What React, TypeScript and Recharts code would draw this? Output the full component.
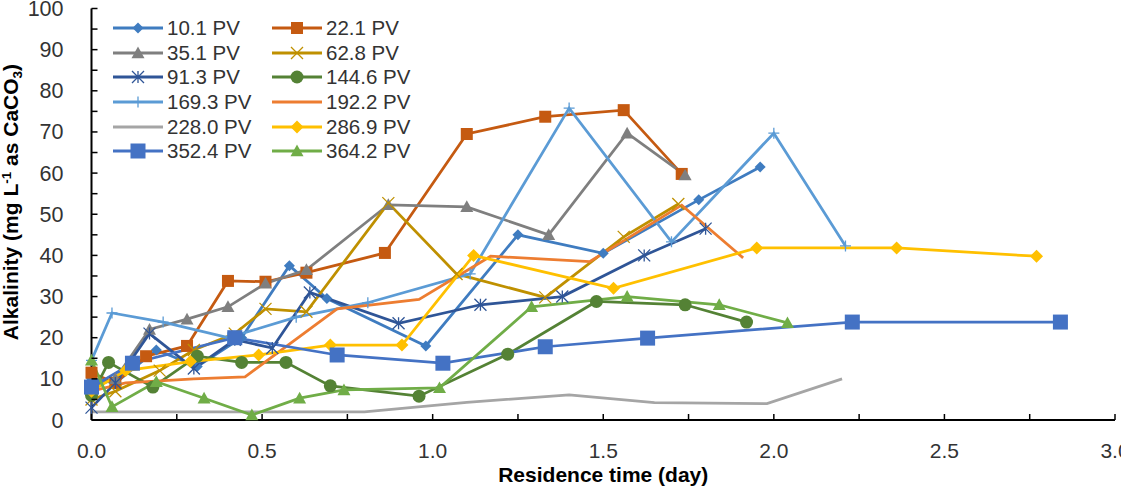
import { Legend, Line, LineChart, XAxis, YAxis } from 'recharts';

// residence time (day) and alkalinity (mg/L as CaCO3) per pore-volume run
const pv10_1Time = [0, 0.07, 0.19, 0.31, 0.44, 0.58, 0.69, 0.98, 1.25, 1.5, 1.78, 1.96];
const pv10_1Alk = [10, 9, 17, 13, 20, 37.5, 29.5, 18, 45, 40.5, 53.5, 61.5];

const pv22_1Time = [0, 0.07, 0.16, 0.28, 0.4, 0.51, 0.63, 0.86, 1.1, 1.33, 1.56, 1.73];
const pv22_1Alk = [11.5, 9, 15.5, 18, 33.8, 33.6, 35.8, 40.6, 69.5, 73.7, 75.3, 59.8];

const pv35_1Time = [0, 0.07, 0.17, 0.28, 0.4, 0.51, 0.63, 0.87, 1.1, 1.34, 1.57, 1.74];
const pv35_1Alk = [8, 10, 22, 24.5, 27.5, 33.2, 36.5, 52.3, 51.8, 45, 69.7, 59.5];

const pv62_8Time = [0, 0.07, 0.2, 0.3, 0.42, 0.51, 0.63, 0.87, 1.07, 1.33, 1.56, 1.72];
const pv62_8Alk = [5, 7, 12, 17, 21, 27, 26.3, 52.7, 35.5, 29.8, 44.5, 52.5];

const pv91_3Time = [0, 0.07, 0.17, 0.3, 0.42, 0.53, 0.64, 0.9, 1.14, 1.38, 1.62, 1.8];
const pv91_3Alk = [3, 9, 21, 12.5, 19.5, 17.5, 31, 23.5, 28, 30, 40, 46.5];

const pv144_6Time = [0, 0.05, 0.18, 0.31, 0.44, 0.57, 0.7, 0.96, 1.22, 1.48, 1.74, 1.92];
const pv144_6Alk = [6, 14, 8, 15.5, 14, 14, 8.3, 5.8, 16, 28.8, 28, 23.8];

const pv169_3Time = [0, 0.06, 0.21, 0.4, 0.6, 0.81, 1.11, 1.4, 1.7, 2.0, 2.21];
const pv169_3Alk = [14.5, 26, 23.8, 20, 25, 28.5, 35.5, 75.8, 43.3, 69.7, 42.3];

const pv192_2Time = [0, 0.1, 0.3, 0.45, 0.72, 0.96, 1.17, 1.46, 1.73, 1.91];
const pv192_2Alk = [7, 9, 10, 10.5, 27, 29.3, 39.8, 38.5, 52.2, 39.4];

const pv228_0Time = [0, 0.2, 0.5, 0.8, 1.1, 1.4, 1.65, 1.98, 2.2];
const pv228_0Alk = [2, 2, 2, 2, 4.3, 6.1, 4.2, 4, 10];

const pv286_9Time = [0, 0.1, 0.29, 0.49, 0.7, 0.91, 1.12, 1.53, 1.95, 2.36, 2.77];
const pv286_9Alk = [7, 12, 14.2, 15.8, 18.2, 18.2, 40, 32, 41.8, 41.8, 39.8];

const pv352_4Time = [0, 0.12, 0.42, 0.72, 1.03, 1.33, 1.63, 2.23, 2.84];
const pv352_4Alk = [8, 13.8, 20, 15.8, 13.8, 17.8, 19.9, 23.8, 23.8];

const pv364_2Time = [0, 0.06, 0.19, 0.33, 0.47, 0.61, 0.74, 1.02, 1.29, 1.57, 1.84, 2.04];
const pv364_2Alk = [14.5, 3.2, 9.3, 5.3, 1.2, 5.3, 7.3, 7.8, 27.5, 30, 28, 23.6];

const xTicks = [0, 0.25, 0.5, 0.75, 1, 1.25, 1.5, 1.75, 2, 2.25, 2.5, 2.75, 3];
const yTicks = [0, 5, 10, 15, 20, 25, 30, 35, 40, 45, 50, 55, 60, 65, 70, 75, 80, 85, 90, 95, 100];

const FONT = '"Liberation Sans", Arial, sans-serif';
const TICK_COLOR = '#333';

type Shape = 'diamond' | 'square' | 'triangle' | 'cross' | 'star' | 'circle' | 'plus' | 'none';

const toPoints = (t: number[], a: number[]) => t.map((x, i) => ({ x, y: a[i] }));

const series = [
  { name: '10.1 PV', color: '#3F7CC0', shape: 'diamond', size: 11, data: toPoints(pv10_1Time, pv10_1Alk) },
  { name: '22.1 PV', color: '#C55A11', shape: 'square', size: 12, data: toPoints(pv22_1Time, pv22_1Alk) },
  { name: '35.1 PV', color: '#7F7F7F', shape: 'triangle', size: 13, data: toPoints(pv35_1Time, pv35_1Alk) },
  { name: '62.8 PV', color: '#BF9000', shape: 'cross', size: 12, data: toPoints(pv62_8Time, pv62_8Alk) },
  { name: '91.3 PV', color: '#2F5597', shape: 'star', size: 12, data: toPoints(pv91_3Time, pv91_3Alk) },
  { name: '144.6 PV', color: '#548235', shape: 'circle', size: 13, data: toPoints(pv144_6Time, pv144_6Alk) },
  { name: '169.3 PV', color: '#5B9BD5', shape: 'plus', size: 11, data: toPoints(pv169_3Time, pv169_3Alk) },
  { name: '192.2 PV', color: '#ED7D31', shape: 'none', size: 0, data: toPoints(pv192_2Time, pv192_2Alk) },
  { name: '228.0 PV', color: '#A5A5A5', shape: 'none', size: 0, data: toPoints(pv228_0Time, pv228_0Alk) },
  { name: '286.9 PV', color: '#FFC000', shape: 'diamond', size: 13, data: toPoints(pv286_9Time, pv286_9Alk) },
  { name: '352.4 PV', color: '#4472C4', shape: 'square', size: 15, data: toPoints(pv352_4Time, pv352_4Alk) },
  { name: '364.2 PV', color: '#70AD47', shape: 'triangle', size: 13, data: toPoints(pv364_2Time, pv364_2Alk) },
] as { name: string; color: string; shape: Shape; size: number; data: { x: number; y: number }[] }[];

const Marker = ({ cx, cy, shape, size, color }: { cx: number; cy: number; shape: Shape; size: number; color: string }) => {
  const h = size / 2;
  switch (shape) {
    case 'diamond':
      return <polygon points={`${cx},${cy - h} ${cx + h},${cy} ${cx},${cy + h} ${cx - h},${cy}`} fill={color} />;
    case 'square':
      return <rect x={cx - h} y={cy - h} width={size} height={size} fill={color} />;
    case 'triangle':
      return <polygon points={`${cx},${cy - h} ${cx + h},${cy + h * 0.8} ${cx - h},${cy + h * 0.8}`} fill={color} />;
    case 'circle':
      return <circle cx={cx} cy={cy} r={h} fill={color} />;
    case 'cross':
      return (
        <path d={`M${cx - h},${cy - h}L${cx + h},${cy + h}M${cx - h},${cy + h}L${cx + h},${cy - h}`} stroke={color} strokeWidth={1.3} />
      );
    case 'star':
      return (
        <path
          d={`M${cx - h},${cy - h}L${cx + h},${cy + h}M${cx - h},${cy + h}L${cx + h},${cy - h}M${cx},${cy - h}L${cx},${cy + h}`}
          stroke={color}
          strokeWidth={1.3}
        />
      );
    case 'plus':
      return <path d={`M${cx - h},${cy}L${cx + h},${cy}M${cx},${cy - h}L${cx},${cy + h}`} stroke={color} strokeWidth={1.3} />;
    default:
      return null;
  }
};

const XTick = ({ x, y, payload }: any) => {
  const v = payload.value as number;
  const major = Math.abs(v * 2 - Math.round(v * 2)) < 1e-6;
  return (
    <g>
      <line x1={x} y1={y} x2={x} y2={y - 6} stroke="#000" strokeWidth={1.5} />
      {major && (
        <text x={x} y={y + 38} textAnchor="middle" fontSize={21} fontFamily={FONT} fill={TICK_COLOR}>
          {v.toFixed(1)}
        </text>
      )}
    </g>
  );
};

const YTick = ({ x, y, payload }: any) => {
  const v = payload.value as number;
  return (
    <g>
      <line x1={x} y1={y} x2={x + 6} y2={y} stroke="#000" strokeWidth={1.5} />
      {v % 10 === 0 && (
        <text x={x - 28} y={y + 7.5} textAnchor="end" fontSize={21.5} fontFamily={FONT} fill={TICK_COLOR}>
          {v}
        </text>
      )}
    </g>
  );
};

const XTitle = ({ viewBox }: any) => (
  <text
    x={viewBox.x + viewBox.width / 2}
    y={482}
    textAnchor="middle"
    fontSize={21}
    fontWeight="bold"
    fontFamily={FONT}
    fill="#000"
  >
    Residence time (day)
  </text>
);

const YTitle = () => (
  <text
    transform="translate(18, 202) rotate(-90)"
    textAnchor="middle"
    fontSize={21}
    fontWeight="bold"
    fontFamily={FONT}
    fill="#000"
  >
    Alkalinity (mg L
    <tspan dy={-7} fontSize={13.5}>
      -1
    </tspan>
    <tspan dy={7}> as CaCO</tspan>
    <tspan dy={4} fontSize={13.5}>
      3
    </tspan>
    <tspan dy={-4}>)</tspan>
  </text>
);

const LegendBox = () => (
  <div
    style={{
      display: 'grid',
      gridTemplateColumns: '159px 159px',
      gridAutoRows: '24.7px',
      fontFamily: FONT,
      fontSize: 20.5,
      color: TICK_COLOR,
    }}
  >
    {series.map((s) => (
      <div key={s.name} style={{ display: 'flex', alignItems: 'center', whiteSpace: 'nowrap' }}>
        <svg width={50} height={24} style={{ flex: 'none' }}>
          <line x1={0} y1={12} x2={50} y2={12} stroke={s.color} strokeWidth={3} />
          <Marker cx={25} cy={12} shape={s.shape} size={s.size} color={s.color} />
        </svg>
        <span style={{ marginLeft: 4, lineHeight: '24px' }}>{s.name}</span>
      </div>
    ))}
  </div>
);

export default function App() {
  return (
    <div style={{ position: 'absolute', left: 0, top: 0, background: '#fff' }}>
      <LineChart width={1121} height={491} margin={{ top: 8.5, right: 6, bottom: 0, left: 0 }}>
        <XAxis
          xAxisId={0}
          dataKey="x"
          type="number"
          domain={[0, 3]}
          ticks={xTicks}
          interval={0}
          height={71}
          tickSize={0}
          tickMargin={0}
          tickLine={false}
          tick={<XTick />}
          axisLine={{ stroke: '#000', strokeWidth: 2 }}
          label={<XTitle />}
        />
        <XAxis xAxisId="top" orientation="top" type="number" domain={[0, 3]} height={0} tick={false} tickLine={false} axisLine={{ stroke: '#000', strokeWidth: 2 }} />
        <YAxis
          yAxisId={0}
          type="number"
          domain={[0, 100]}
          ticks={yTicks}
          interval={0}
          width={91.5}
          tickSize={0}
          tickMargin={0}
          tickLine={false}
          tick={<YTick />}
          axisLine={{ stroke: '#000', strokeWidth: 2 }}
          label={<YTitle />}
        />
        <YAxis yAxisId="right" orientation="right" type="number" domain={[0, 100]} width={0} tick={false} tickLine={false} axisLine={{ stroke: '#000', strokeWidth: 2 }} />
        <Legend
          layout="vertical"
          align="center"
          verticalAlign="middle"
          content={() => <LegendBox />}
          wrapperStyle={{ left: 113, top: 15.6, width: 330 }}
        />
        {series.map((s) => (
          <Line
            key={s.name}
            xAxisId={0}
            yAxisId={0}
            data={s.data}
            dataKey="y"
            name={s.name}
            stroke={s.color}
            strokeWidth={2.75}
            isAnimationActive={false}
            dot={
              s.shape === 'none'
                ? false
                : (p: any) => (
                    <Marker key={`${s.name}-${p.index}`} cx={p.cx} cy={p.cy} shape={s.shape} size={s.size} color={s.color} />
                  )
            }
            activeDot={false}
          />
        ))}
      </LineChart>
    </div>
  );
}
